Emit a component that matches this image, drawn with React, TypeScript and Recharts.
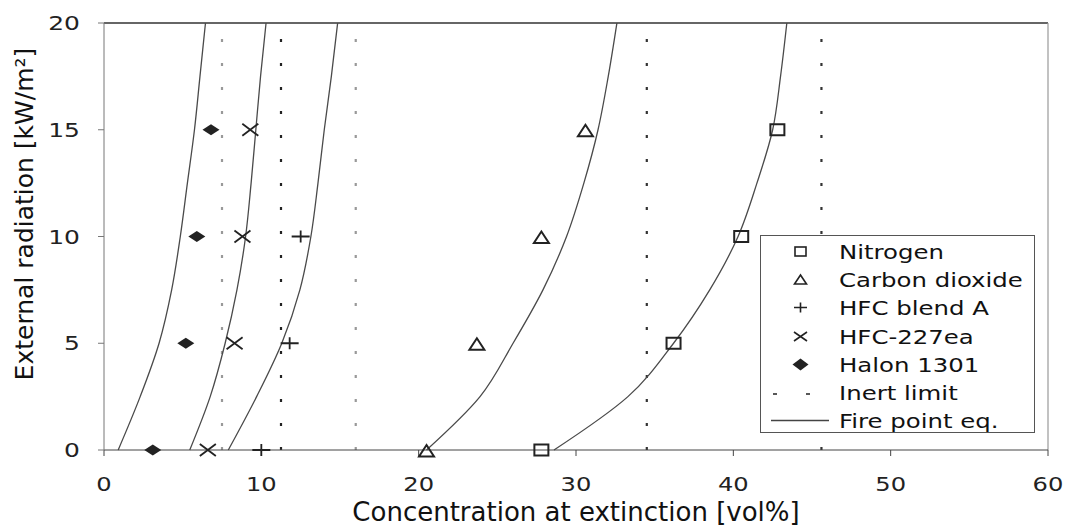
import React from "react";
import { ComposedChart, Line, Scatter, XAxis, YAxis, ReferenceLine, Legend } from "recharts";

// measured points: external radiation [kW/m2] vs concentration [vol%]
const radiation = [0, 5, 10, 15];
const nitrogenConc = [27.8, 36.2, 40.5, 42.8];
const co2Conc = [20.5, 23.7, 27.8, 30.6];
const hfcBlendConc = [10.0, 11.8, 12.5];
const hfc227Conc = [6.6, 8.3, 8.8, 9.3];
const halonConc = [3.1, 5.2, 5.9, 6.8];

// fire point equation curves, sampled at these radiation levels
const curveRadiation = [0, 2.5, 5, 7.5, 10, 12.5, 15, 17.5, 20];
const halonCurve = [0.9, 2.3, 3.5, 4.3, 4.85, 5.3, 5.75, 6.1, 6.45];
const hfc227Curve = [5.45, 6.75, 7.7, 8.45, 9.0, 9.35, 9.65, 9.95, 10.3];
const hfcBlendCurve = [7.9, 9.7, 11.3, 12.45, 13.15, 13.6, 14.0, 14.45, 14.85];
const co2Curve = [20.5, 23.9, 26.0, 27.9, 29.4, 30.5, 31.4, 32.05, 32.6];
const nitrogenCurve = [28.6, 33.3, 36.2, 38.5, 40.3, 41.5, 42.5, 43.0, 43.4];

const inertLimits = [7.5, 11.25, 16, 34.5, 45.6];
const xTicks = [0, 10, 20, 30, 40, 50, 60];
const yTicks = [0, 5, 10, 15, 20];

const legendLabels = [
  "Nitrogen",
  "Carbon dioxide",
  "HFC blend A",
  "HFC-227ea",
  "Halon 1301",
  "Inert limit",
  "Fire point eq.",
];

const toPoints = (xs: number[], ys: number[]) => xs.map((x, i) => ({ x, y: ys[i] }));

const INK = "#222";
const inertColors = ["#999", "#222", "#999", "#333", "#333"];

const SquareMark = ({ cx, cy }: any) => (
  <rect x={cx - 7} y={cy - 5.5} width={14} height={11} fill="none" stroke={INK} strokeWidth={2} />
);
const TriangleMark = ({ cx, cy }: any) => (
  <path d={`M${cx},${cy - 5} L${cx + 7.5},${cy + 6.5} L${cx - 7.5},${cy + 6.5}Z`} fill="none" stroke={INK} strokeWidth={2} />
);
const PlusMark = ({ cx, cy }: any) => (
  <path d={`M${cx - 9},${cy}H${cx + 9}M${cx},${cy - 6}V${cy + 6}`} stroke={INK} strokeWidth={1.8} />
);
const CrossMark = ({ cx, cy }: any) => (
  <path d={`M${cx - 8},${cy - 6}L${cx + 8},${cy + 6}M${cx - 8},${cy + 6}L${cx + 8},${cy - 6}`} stroke={INK} strokeWidth={1.8} />
);
const DiamondMark = ({ cx, cy }: any) => (
  <path d={`M${cx - 8.5},${cy}L${cx},${cy - 5.5}L${cx + 8.5},${cy}L${cx},${cy + 5.5}Z`} fill={INK} />
);

const tickFont = { fontFamily: "DejaVu Sans", fontSize: 19.5, fill: INK };

const XTick = ({ x, y, payload }: any) => (
  <g transform={`translate(${x},${y}) scale(1.24,1)`}>
    <text textAnchor="middle" y={33} {...tickFont}>
      {payload.value}
    </text>
  </g>
);

const YTick = ({ x, y, payload }: any) => (
  <g transform={`translate(${x - 16},${y}) scale(1.28,1)`}>
    <text textAnchor="end" dy="0.36em" {...tickFont}>
      {payload.value}
    </text>
  </g>
);

const legendIcons = [
  <rect x={6} y={5} width={11} height={9} fill="none" stroke={INK} strokeWidth={1.6} />,
  <path d="M11.5,5 L17.5,14 L5.5,14Z" fill="none" stroke={INK} strokeWidth={1.6} />,
  <path d="M5,9.5H18M11.5,4.5V14.5" stroke={INK} strokeWidth={1.6} />,
  <path d="M5,5L18,14M5,14L18,5" stroke={INK} strokeWidth={1.6} />,
  <path d="M3.5,9.5L11.5,3.5L19.5,9.5L11.5,15.5Z" fill={INK} />,
  <path d="M-16,11H-12M17,11H21" stroke={INK} strokeWidth={1.6} />,
  <path d="M-18,9.5H40" stroke="#444" strokeWidth={1.4} />,
];

const LegendBox = () => (
  <div
    style={{
      width: 275,
      height: 198,
      boxSizing: "border-box",
      border: "1.5px solid #555",
      background: "#fff",
      paddingTop: 2,
    }}
  >
    {legendLabels.map((label, i) => (
      <div key={label} style={{ position: "relative", height: 28.2 }}>
        <svg width={80} height={20} style={{ position: "absolute", left: 28, top: 4, overflow: "visible" }}>
          {legendIcons[i]}
        </svg>
        <span
          style={{
            position: "absolute",
            left: 78,
            top: 1,
            fontFamily: "DejaVu Sans",
            fontSize: 20,
            color: "#111",
            whiteSpace: "nowrap",
            transform: "scaleX(1.22)",
            transformOrigin: "left center",
            lineHeight: "26px",
          }}
        >
          {label}
        </span>
      </div>
    ))}
  </div>
);

export default function App() {
  const curveStyle = { stroke: "#4a4a4a", strokeWidth: 1.3, dot: false, isAnimationActive: false, type: "monotoneY" as const };
  return (
    <div style={{ position: "absolute", left: 0, top: 0, width: 1066, height: 528, background: "#fff" }}>
      <ComposedChart width={1066} height={528} margin={{ top: 23, right: 18, bottom: 48, left: 0 }}>
        <XAxis
          type="number"
          dataKey="x"
          domain={[0, 60]}
          ticks={xTicks}
          tick={<XTick />}
          stroke="#444"
          tickSize={6}
          height={30}
          label={{
            value: "Concentration at extinction [vol%]",
            content: () => (
              <text x={576} y={521} textAnchor="middle" fontFamily="DejaVu Sans" fontSize={26} fill="#111">
                Concentration at extinction [vol%]
              </text>
            ),
          }}
        />
        <YAxis
          type="number"
          dataKey="y"
          domain={[0, 20]}
          ticks={yTicks}
          width={104}
          tick={<YTick />}
          stroke="#777"
          tickSize={6}
          label={{
            value: "External radiation [kW/m²]",
            content: () => (
              <text
                x={33}
                y={214}
                transform="rotate(-90 33 214)"
                textAnchor="middle"
                fontFamily="DejaVu Sans"
                fontSize={25}
                fill="#111"
              >
                External radiation [kW/m²]
              </text>
            ),
          }}
        />
        <ReferenceLine y={20} stroke="#333" strokeWidth={1.5} />
        <ReferenceLine x={60} stroke="#999" strokeWidth={1.2} />
        {inertLimits.map((v, i) => (
          <ReferenceLine key={v} x={v} stroke={inertColors[i]} strokeWidth={2.2} strokeDasharray="3 21" />
        ))}
        <Line data={toPoints(halonCurve, curveRadiation)} dataKey="y" {...curveStyle} />
        <Line data={toPoints(hfc227Curve, curveRadiation)} dataKey="y" {...curveStyle} />
        <Line data={toPoints(hfcBlendCurve, curveRadiation)} dataKey="y" {...curveStyle} />
        <Line data={toPoints(co2Curve, curveRadiation)} dataKey="y" {...curveStyle} />
        <Line data={toPoints(nitrogenCurve, curveRadiation)} dataKey="y" {...curveStyle} />
        <Scatter data={toPoints(nitrogenConc, radiation)} dataKey="y" shape={<SquareMark />} isAnimationActive={false} />
        <Scatter data={toPoints(co2Conc, radiation)} dataKey="y" shape={<TriangleMark />} isAnimationActive={false} />
        <Scatter data={toPoints(hfcBlendConc, radiation)} dataKey="y" shape={<PlusMark />} isAnimationActive={false} />
        <Scatter data={toPoints(hfc227Conc, radiation)} dataKey="y" shape={<CrossMark />} isAnimationActive={false} />
        <Scatter data={toPoints(halonConc, radiation)} dataKey="y" shape={<DiamondMark />} isAnimationActive={false} />
        <Legend
          layout="vertical"
          align="center"
          verticalAlign="middle"
          content={<LegendBox />}
          wrapperStyle={{ left: 760, top: 235, width: 275, height: 198 }}
        />
      </ComposedChart>
    </div>
  );
}
